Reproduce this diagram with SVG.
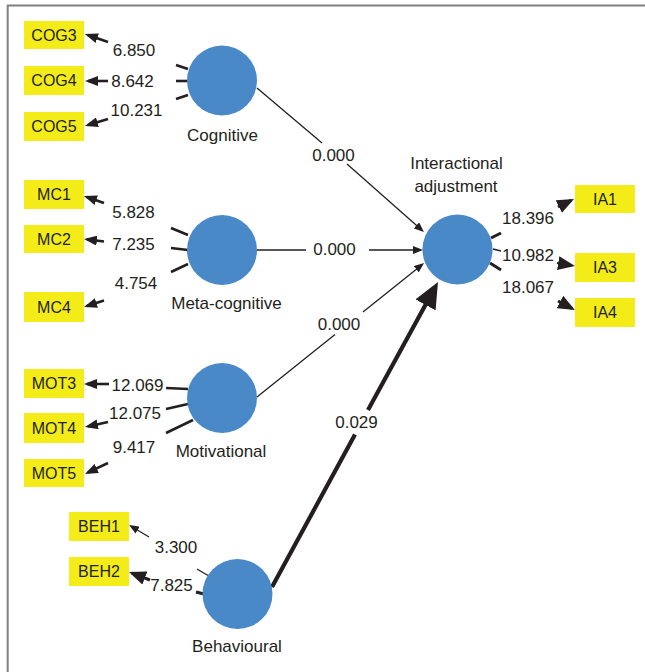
<svg xmlns="http://www.w3.org/2000/svg" width="645" height="672" viewBox="0 0 645 672">
<style>
text{font-family:"Liberation Sans",Arial,sans-serif;fill:#231f20;text-anchor:middle}
.num{font-size:17px}
.lbl{font-size:16px}
.nl{font-size:17px}
.box{fill:#f3ec19}
.lv{fill:#4a89c8}
.c{stroke:#231f20;fill:none}
.t1{stroke-width:1.3}
.t2{stroke-width:2.6}
.t3{stroke-width:3}
.t4{stroke-width:4.2}
</style>
<defs>
<marker id="ms" markerUnits="userSpaceOnUse" markerWidth="10" markerHeight="8" refX="7" refY="4" orient="auto"><path d="M0,0 L10,4 L0,8 z" fill="#231f20"/></marker>
<marker id="mm" markerUnits="userSpaceOnUse" markerWidth="13" markerHeight="10" refX="10" refY="5" orient="auto"><path d="M0,0 L13,5 L0,10 z" fill="#231f20"/></marker>
<marker id="ml" markerUnits="userSpaceOnUse" markerWidth="17" markerHeight="14" refX="14" refY="7" orient="auto"><path d="M0,0 L17,7 L0,14 z" fill="#231f20"/></marker>
<marker id="mx" markerUnits="userSpaceOnUse" markerWidth="26" markerHeight="23" refX="20" refY="11.5" orient="auto"><path d="M0,0 L26,11.5 L0,23 z" fill="#231f20"/></marker>
</defs>
<rect width="645" height="672" fill="#fff"/>
<path d="M7.7,672 V5.5 H645" fill="none" stroke="#808080" stroke-width="2"/>
<g id="connectors">
<!-- cognitive indicators -->
<line class="c t2" x1="176" y1="65" x2="188" y2="69"/>
<line class="c t2" x1="108" y1="42" x2="87.8" y2="35" marker-end="url(#mm)"/>
<line class="c t2" x1="176" y1="81" x2="188" y2="81"/>
<line class="c t2" x1="108" y1="81" x2="88" y2="81" marker-end="url(#mm)"/>
<line class="c t2" x1="176" y1="99" x2="188" y2="95"/>
<line class="c t2" x1="108" y1="119" x2="87.9" y2="125.1" marker-end="url(#mm)"/>
<!-- meta-cognitive indicators -->
<line class="c t2" x1="171" y1="228" x2="188" y2="235"/>
<line class="c t2" x1="104" y1="203" x2="86.8" y2="197" marker-end="url(#mm)"/>
<line class="c t2" x1="171" y1="248" x2="188" y2="250"/>
<line class="c t2" x1="104" y1="241.5" x2="87" y2="239.4" marker-end="url(#mm)"/>
<line class="c t2" x1="171" y1="272" x2="188" y2="264"/>
<line class="c t2" x1="104" y1="300.5" x2="86.9" y2="306.1" marker-end="url(#mm)"/>
<!-- motivational indicators -->
<line class="c t2" x1="166" y1="388" x2="188" y2="389"/>
<line class="c t2" x1="109" y1="384" x2="87" y2="384" marker-end="url(#mm)"/>
<line class="c t2" x1="166" y1="409" x2="188" y2="404"/>
<line class="c t2" x1="108" y1="422" x2="87.9" y2="426.4" marker-end="url(#mm)"/>
<line class="c t2" x1="166" y1="433" x2="193" y2="420"/>
<line class="c t2" x1="108" y1="463" x2="87.7" y2="472.7" marker-end="url(#mm)"/>
<!-- behavioural indicators -->
<line class="c t1" x1="197" y1="569" x2="208" y2="575.5"/>
<line class="c t1" x1="149" y1="537" x2="131.6" y2="526.5" marker-end="url(#ms)"/>
<line class="c t3" x1="196" y1="592" x2="204" y2="594"/>
<line class="c t3" x1="150" y1="580" x2="131.8" y2="573.1" marker-end="url(#ml)"/>
<!-- interactional adjustment indicators -->
<line class="c t3" x1="491" y1="238" x2="501" y2="233"/>
<line class="c t3" x1="558" y1="207" x2="571.3" y2="200.3" marker-end="url(#ml)"/>
<line class="c" stroke-width="1.8" x1="493" y1="249" x2="501" y2="251"/>
<line class="c" stroke-width="1.8" x1="557" y1="263" x2="572" y2="265.5" marker-end="url(#ml)"/>
<line class="c t3" x1="490" y1="263" x2="501" y2="270"/>
<line class="c t3" x1="558" y1="301" x2="572.3" y2="308.6" marker-end="url(#ml)"/>
<!-- structural paths -->
<line class="c t1" x1="257" y1="88" x2="322" y2="143"/>
<line class="c t1" x1="347" y1="164" x2="421.7" y2="230" marker-end="url(#ms)"/>
<line class="c t1" x1="257" y1="250" x2="306" y2="250"/>
<line class="c t1" x1="369" y1="250" x2="420" y2="250" marker-end="url(#ms)"/>
<line class="c t1" x1="257" y1="397" x2="335" y2="334.5"/>
<line class="c t1" x1="363" y1="312" x2="421.7" y2="264.9" marker-end="url(#ms)"/>
<line class="c t4" x1="272" y1="587" x2="355" y2="434.5"/>
<line class="c t4" x1="368" y1="410" x2="435.1" y2="287.3" marker-end="url(#mx)"/>
</g>
<g id="labels">
<text class="num" x="134" y="56">6.850</text>
<text class="num" x="132.5" y="87">8.642</text>
<text class="num" x="136.5" y="116">10.231</text>
<text class="num" x="133.5" y="218">5.828</text>
<text class="num" x="133.5" y="250">7.235</text>
<text class="num" x="136" y="289">4.754</text>
<text class="num" x="137.5" y="391">12.069</text>
<text class="num" x="135" y="419">12.075</text>
<text class="num" x="134" y="453">9.417</text>
<text class="num" x="176" y="553">3.300</text>
<text class="num" x="171.5" y="591">7.825</text>
<text class="num" x="528" y="224">18.396</text>
<text class="num" x="528" y="261">10.982</text>
<text class="num" x="528" y="293">18.067</text>
<text class="num" x="333.5" y="161">0.000</text>
<text class="num" x="334.5" y="255">0.000</text>
<text class="num" x="339" y="330">0.000</text>
<text class="num" x="356.5" y="428">0.029</text>
</g>
<g id="cognitive"><circle class="lv" cx="222" cy="80.5" r="35"/><text class="nl" x="222.5" y="141">Cognitive</text></g>
<g id="meta-cognitive"><circle class="lv" cx="222" cy="250" r="35"/><text class="nl" x="226.5" y="309">Meta-cognitive</text></g>
<g id="motivational"><circle class="lv" cx="222" cy="398" r="35"/><text class="nl" x="221" y="457">Motivational</text></g>
<g id="behavioural"><circle class="lv" cx="237.5" cy="594" r="35"/><text class="nl" x="237" y="652">Behavioural</text></g>
<g id="interactional-adjustment"><circle class="lv" cx="457.5" cy="249.5" r="35"/><text class="nl" x="456.5" y="169">Interactional</text><text class="nl" x="456" y="192">adjustment</text></g>
<g id="COG3"><rect class="box" x="24" y="21" width="60" height="28"/><text class="lbl" x="54" y="40.8">COG3</text></g>
<g id="COG4"><rect class="box" x="24" y="66" width="60" height="29"/><text class="lbl" x="54" y="86.2">COG4</text></g>
<g id="COG5"><rect class="box" x="24" y="112" width="60" height="29"/><text class="lbl" x="54" y="132.2">COG5</text></g>
<g id="MC1"><rect class="box" x="24" y="180" width="60" height="29"/><text class="lbl" x="54" y="200.2">MC1</text></g>
<g id="MC2"><rect class="box" x="24" y="225" width="60" height="28"/><text class="lbl" x="54" y="244.8">MC2</text></g>
<g id="MC4"><rect class="box" x="24" y="292" width="60" height="30"/><text class="lbl" x="54" y="312.7">MC4</text></g>
<g id="MOT3"><rect class="box" x="24" y="369" width="60" height="29"/><text class="lbl" x="54" y="389.2">MOT3</text></g>
<g id="MOT4"><rect class="box" x="24" y="413" width="60" height="30"/><text class="lbl" x="54" y="433.7">MOT4</text></g>
<g id="MOT5"><rect class="box" x="24" y="459" width="60" height="28"/><text class="lbl" x="54" y="478.8">MOT5</text></g>
<g id="BEH1"><rect class="box" x="69" y="512" width="60" height="29"/><text class="lbl" x="99" y="532.2">BEH1</text></g>
<g id="BEH2"><rect class="box" x="69" y="557" width="60" height="29"/><text class="lbl" x="99" y="577.2">BEH2</text></g>
<g id="IA1"><rect class="box" x="575" y="185" width="60" height="28"/><text class="lbl" x="605" y="204.8">IA1</text></g>
<g id="IA3"><rect class="box" x="575" y="253" width="60" height="29"/><text class="lbl" x="605" y="273.2">IA3</text></g>
<g id="IA4"><rect class="box" x="575" y="298" width="60" height="29"/><text class="lbl" x="605" y="318.2">IA4</text></g>
</svg>
